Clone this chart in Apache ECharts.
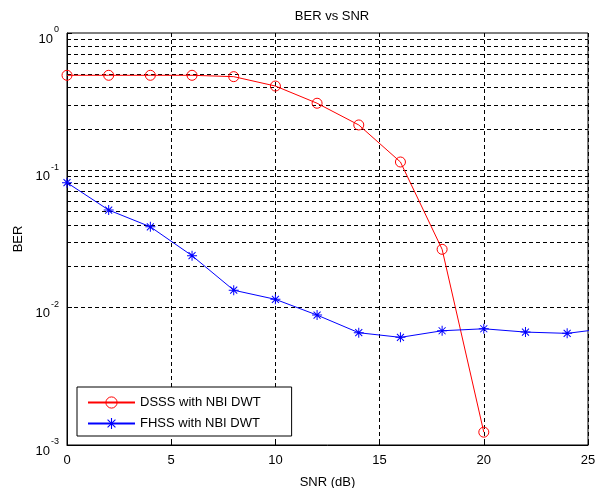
<!DOCTYPE html>
<html>
<head>
<meta charset="utf-8">
<script src="https://cdn.jsdelivr.net/npm/echarts@6/dist/echarts.min.js"></script>
<style>
html,body{margin:0;padding:0;background:#fff;}
#c{width:603px;height:488px;}
</style>
</head>
<body>
<div id="c"></div>
<script>
// ---- data ----
var snrDSSS = [0, 2, 4, 6, 8, 10, 12, 14, 16, 18, 20];
var berDSSS = [0.492, 0.492, 0.492, 0.492, 0.481, 0.411, 0.308, 0.214, 0.115, 0.0266, 0.00124];
var snrFHSS = [0, 2, 4, 6, 8, 10, 12, 14, 16, 18, 20, 22, 24, 26];
var berFHSS = [0.0813, 0.0514, 0.0388, 0.0239, 0.0134, 0.0115, 0.00883, 0.00657, 0.00608, 0.00679, 0.00702, 0.00664, 0.0065, 0.0071];
var seriesNames = ['DSSS with NBI DWT', 'FHSS with NBI DWT'];
var yGridValues = [0.002,0.003,0.004,0.005,0.006,0.007,0.008,0.009,0.01,
                   0.02,0.03,0.04,0.05,0.06,0.07,0.08,0.09,0.1,
                   0.2,0.3,0.4,0.5,0.6,0.7,0.8,0.9];
var xTickInterval = 5;

var FONT = '"Liberation Sans", Arial, sans-serif';
var asterisk = 'path://M9,0L11,0L11,20L9,20Z M0,9L20,9L20,11L0,11Z M3.7,2.3L17.7,16.3L16.3,17.7L2.3,3.7Z M16.3,2.3L17.7,3.7L3.7,17.7L2.3,16.3Z';
var dash = [4, 3];

function pairs(xs, ys){ return xs.map(function(x,i){ return [x, ys[i]]; }); }

var chart = echarts.init(document.getElementById('c'), null, {renderer:'canvas'});
chart.setOption({
  animation: false,
  backgroundColor: '#fff',
  title: {
    text: 'BER vs SNR', left: 327, textAlign: 'center', top: 5,
    textStyle: {fontFamily: FONT, fontSize: 13, fontWeight: 'normal', color: '#000'}
  },
  grid: {left: 67, top: 33, width: 521, height: 412, show: true, borderColor: '#000', borderWidth: 1,
         backgroundColor: '#fff', containLabel: false, outerBoundsMode: 'none'},
  legend: {
    orient: 'vertical', left: 77, top: 387,
    itemWidth: 47, itemHeight: 14, itemGap: 8,
    padding: [9, 31, 6, 10],
    borderColor: '#000', borderWidth: 1, backgroundColor: '#fff',
    textStyle: {fontFamily: FONT, fontSize: 13, color: '#000'},
    data: [
      {name: seriesNames[0], itemStyle: {borderWidth: 1}},
      {name: seriesNames[1]}
    ]
  },
  xAxis: {
    type: 'value', min: 0, max: 25, interval: xTickInterval,
    name: 'SNR (dB)', nameLocation: 'middle', nameGap: 31,
    nameTextStyle: {fontFamily: FONT, fontSize: 13, color: '#000'},
    axisLine: {show: true, lineStyle: {color: '#000', width: 1}},
    axisTick: {show: true, inside: true, length: 5, lineStyle: {color: '#000'}},
    axisLabel: {fontFamily: FONT, fontSize: 13, color: '#000', margin: 9},
    splitLine: {show: true, lineStyle: {color: '#000', type: dash, width: 1}}
  },
  yAxis: {
    type: 'log', logBase: 10, min: 0.001, max: 1,
    name: 'BER', nameLocation: 'middle', nameGap: 37, nameRotate: 90,
    nameTextStyle: {fontFamily: FONT, fontSize: 13, color: '#000'},
    axisLine: {show: true, lineStyle: {color: '#000', width: 1}},
    axisTick: {show: true, inside: true, length: 5, lineStyle: {color: '#000'}},
    splitLine: {show: false},
    axisLabel: {
      margin: 8, color: '#000',
      formatter: function(v){
        var e = Math.round(Math.log(v)/Math.LN10);
        return '{b|10}{s|' + e + '}';
      },
      rich: {
        b: {fontFamily: FONT, fontSize: 13, color: '#000', padding: [12, 0, 0, 0]},
        s: {fontFamily: FONT, fontSize: 9, color: '#000', verticalAlign: 'top', padding: [5, 0, 0, 1]}
      }
    }
  },
  series: [
    {
      name: seriesNames[0], type: 'line', data: pairs(snrDSSS, berDSSS),
      symbol: 'circle', symbolSize: 10, clip: true,
      lineStyle: {color: '#ff0000', width: 1},
      itemStyle: {color: 'rgba(255,255,255,0)', borderColor: '#ff0000', borderWidth: 1},
      z: 5,
      markLine: {
        silent: true, symbol: 'none', label: {show: false},
        lineStyle: {color: '#000', type: dash, width: 1},
        data: yGridValues.map(function(v){ return {yAxis: v}; }),
        z: 1
      }
    },
    {
      name: seriesNames[1], type: 'line', data: pairs(snrFHSS, berFHSS),
      symbol: asterisk, symbolSize: 10, clip: true,
      lineStyle: {color: '#0000ff', width: 1},
      itemStyle: {color: '#0000ff'},
      z: 5
    }
  ]
});
</script>
</body>
</html>
